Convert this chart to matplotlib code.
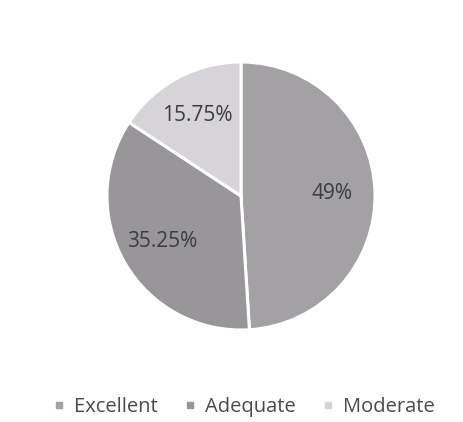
import matplotlib.pyplot as plt
from matplotlib.lines import Line2D

# pie data
categories = ["Excellent", "Adequate", "Moderate"]
shares = [49, 35.25, 15.75]
pct_labels = ["49%", "35.25%", "15.75%"]
colors = ["#a3a1a4", "#989699", "#d6d4d8"]

plt.rcParams['font.family'] = ['Open Sans', 'DejaVu Sans']

fig = plt.figure(figsize=(4.64, 4.22), dpi=100)
W, H = 464, 422
cx, cy, r = 241, 196, 134
ax = fig.add_axes([(cx - r) / W, 1 - (cy + r) / H, 2 * r / W, 2 * r / H])

wedges, texts = ax.pie(shares, colors=colors, startangle=90, counterclock=False,
                       radius=1, labels=pct_labels, labeldistance=0.68,
                       wedgeprops=dict(edgecolor="white", linewidth=2.2),
                       textprops=dict(fontsize=15, color="#3c3c3c"))
for t in texts:
    t.set_ha("center")
    t.set_va("center")
ax.set_xlim(-1, 1)
ax.set_ylim(-1, 1)
ax.set_aspect("equal")
ax.axis("off")

handles = [Line2D([], [], marker="s", linestyle="", markersize=5,
                  markerfacecolor=c, markeredgecolor=c) for c in colors]
fig.legend(handles, categories, loc="center", bbox_to_anchor=(0.523, 0.035),
           ncol=3, frameon=False, fontsize=14.5, labelcolor="#4a4a4a",
           handlelength=0.8, handletextpad=0.35, columnspacing=1.2)

fig.savefig("out.png", dpi=100, facecolor="white")
